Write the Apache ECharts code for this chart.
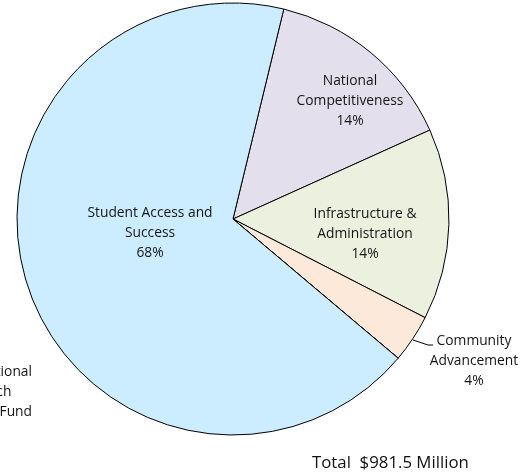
<!DOCTYPE html>
<html>
<head>
<meta charset="utf-8">
<script src="https://cdn.jsdelivr.net/npm/echarts@6/dist/echarts.min.js"></script>
<style>
  html, body { margin: 0; padding: 0; background: #ffffff; }
  #chart { width: 524px; height: 475px; }
</style>
</head>
<body>
<div id="chart"></div>
<script>
// Budget allocation by strategic category ($ millions)
const categories = [
  'National Competitiveness',
  'Infrastructure & Administration',
  'Community Advancement',
  'National Research University Fund',
  'Student Access and Success'
];
const labelLines = [
  ['National', 'Competitiveness'],
  ['Infrastructure &', 'Administration'],
  ['Community', 'Advancement'],
  ['National', 'Research', 'University Fund'],
  ['Student Access and', 'Success']
];
const amounts = [142.0, 140.4, 35.3, 0, 663.8];
const sliceColors = ['#E4DFEC', '#EBF1DE', '#FDE9D9', '#FFFFFF', '#CCECFF'];

// label anchor points: [x, y, align]
const labelAnchors = [
  [350, 101, 'center'],
  [365, 234, 'center'],
  [474, 361, 'center'],
  [32, 402, 'right'],
  [150, 233, 'center']
];
const communityLeader = [[413, 340], [428, 345], [433, 345]];

const total = amounts.reduce((a, b) => a + b, 0);
const totalText = 'Total  $' + total.toFixed(1) + ' Million';

const FONT = '"Open Sans"';
const LABEL_SIZE = 13.8;
const chart = echarts.init(document.getElementById('chart'), null, { renderer: 'canvas' });

const data = categories.map((name, i) => {
  const lines = labelLines[i];
  let formatter;
  if (i === 3) {
    formatter = (p) => '{r|' + lines[0] + '}\n{c|' + lines[1] + '}\n{c|' + lines[2] + '}\n{c|' + Math.round(p.percent) + '%}';
  } else {
    formatter = (p) => lines.join('\n') + '\n' + Math.round(p.percent) + '%';
  }
  return {
    name,
    value: amounts[i],
    itemStyle: { color: sliceColors[i] },
    label: {
      position: (i === 2 || i === 3) ? 'outside' : 'inside',
      formatter
    },
    labelLine: { show: i === 2, lineStyle: { color: '#000', width: 1 } }
  };
});

chart.setOption({
  animation: false,
  title: {
    text: totalText,
    left: 307,
    top: 450,
    textStyle: { fontFamily: FONT, fontSize: 16.8, fontWeight: 'normal', color: '#111' }
  },
  series: [{
    type: 'pie',
    center: [233, 219],
    radius: 216,
    startAngle: 76.4,
    clockwise: true,
    avoidLabelOverlap: false,
    silent: true,
    itemStyle: { borderColor: '#000', borderWidth: 1 },
    label: {
      fontFamily: FONT,
      fontSize: LABEL_SIZE,
      color: '#151515',
      lineHeight: 20,
      align: 'center',
      rich: {
        r: { fontFamily: FONT, fontSize: LABEL_SIZE, color: '#151515', lineHeight: 20, align: 'right' },
        c: { fontFamily: FONT, fontSize: LABEL_SIZE, color: '#151515', lineHeight: 20, align: 'center' }
      }
    },
    labelLayout: (params) => {
      const a = labelAnchors[params.dataIndex];
      const out = { x: a[0], y: a[1], align: a[2], verticalAlign: 'middle', hideOverlap: false };
      if (params.dataIndex === 2) out.labelLinePoints = communityLeader;
      return out;
    },
    data
  }]
});
</script>
</body>
</html>
